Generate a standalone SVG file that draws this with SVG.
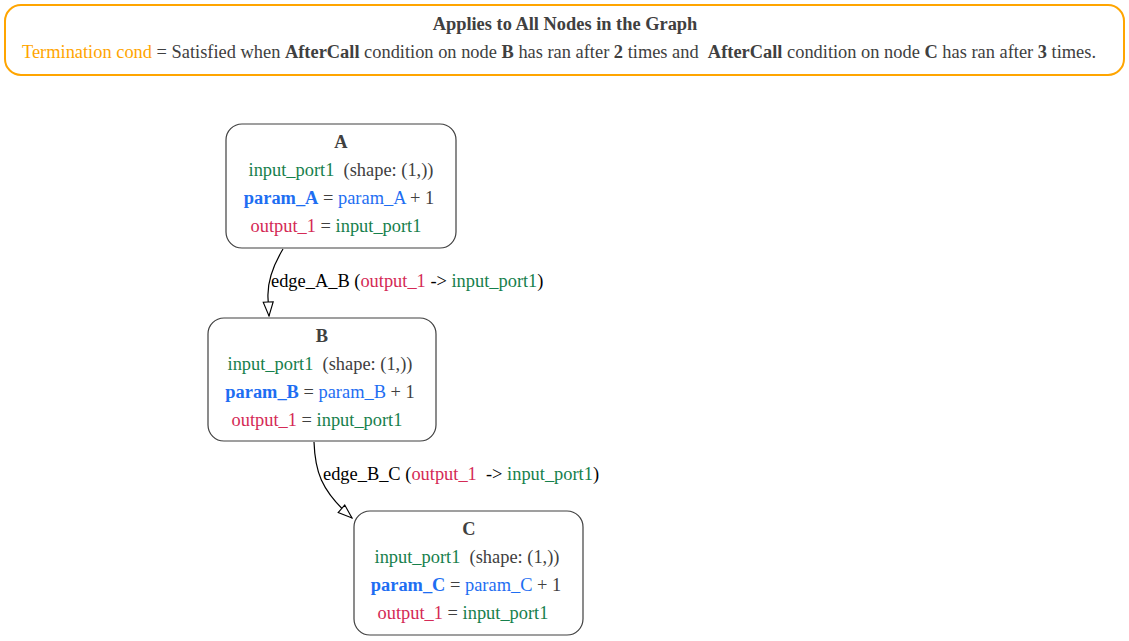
<svg xmlns="http://www.w3.org/2000/svg" width="1129" height="641" viewBox="0 0 1129 641">
<style>
text{font-family:"Liberation Serif","Times New Roman",serif;font-size:18.4px;fill:#404040;white-space:pre}
.b{font-weight:bold}
.g{fill:#16804c}
.r{fill:#d42a56}
.bl{fill:#1e6ef2}
.o{fill:#ffa500}
.k{fill:#000}
.node{fill:#fff;stroke:#404040;stroke-width:1.2}
.edge{fill:none;stroke:#000;stroke-width:1.2}
</style>
<defs>
<marker id="ah" markerWidth="16" markerHeight="12" refX="15" refY="6" orient="auto" markerUnits="userSpaceOnUse">
<path d="M1,1 L15,6 L1,11 Z" fill="#fff" stroke="#000" stroke-width="1.1"/>
</marker>
</defs>
<rect width="1129" height="641" fill="#fff"/>
<g id="legend">
<rect x="5" y="5" width="1119" height="70" rx="16" fill="#fff" stroke="#ffa500" stroke-width="2"/>
<text x="565" y="30" text-anchor="middle" class="b">Applies to All Nodes in the Graph</text>
<text x="22" y="58"><tspan class="o">Termination cond</tspan> = Satisfied when <tspan class="b">AfterCall</tspan> condition on node <tspan class="b">B</tspan> has ran after <tspan class="b">2</tspan> times and  <tspan class="b">AfterCall</tspan> condition on node <tspan class="b">C</tspan> has ran after <tspan class="b">3</tspan> times.</text>
</g>
<g id="edges">
<path class="edge" d="M283,249 C274,264 267,280 268,298 L269,316" marker-end="url(#ah)"/>
<text x="271" y="287" class="k">edge_A_B (<tspan class="r">output_1</tspan> -&gt; <tspan class="g">input_port1</tspan>)</text>
<path class="edge" d="M314,442 C315,470 320,490 352,518" marker-end="url(#ah)"/>
<text x="323" y="480" class="k">edge_B_C (<tspan class="r">output_1</tspan>  -&gt; <tspan class="g">input_port1</tspan>)</text>
</g>
<g id="node-A">
<rect class="node" x="226" y="124" width="230" height="124" rx="16"/>
<text x="341" y="148" text-anchor="middle" class="b">A</text>
<text x="341" y="176" text-anchor="middle"><tspan class="g">input_port1</tspan>  (shape: (1,))</text>
<text x="339" y="204" text-anchor="middle"><tspan class="bl b">param_A</tspan> = <tspan class="bl">param_A</tspan> + 1</text>
<text x="336" y="232" text-anchor="middle"><tspan class="r">output_1</tspan> = <tspan class="g">input_port1</tspan></text>
</g>
<g id="node-B">
<rect class="node" x="208" y="318" width="228" height="123" rx="16"/>
<text x="322" y="342" text-anchor="middle" class="b">B</text>
<text x="320" y="370" text-anchor="middle"><tspan class="g">input_port1</tspan>  (shape: (1,))</text>
<text x="320" y="398" text-anchor="middle"><tspan class="bl b">param_B</tspan> = <tspan class="bl">param_B</tspan> + 1</text>
<text x="317" y="426" text-anchor="middle"><tspan class="r">output_1</tspan> = <tspan class="g">input_port1</tspan></text>
</g>
<g id="node-C">
<rect class="node" x="354" y="511" width="229" height="124" rx="16"/>
<text x="469" y="535" text-anchor="middle" class="b">C</text>
<text x="467" y="563" text-anchor="middle"><tspan class="g">input_port1</tspan>  (shape: (1,))</text>
<text x="466" y="591" text-anchor="middle"><tspan class="bl b">param_C</tspan> = <tspan class="bl">param_C</tspan> + 1</text>
<text x="463" y="619" text-anchor="middle"><tspan class="r">output_1</tspan> = <tspan class="g">input_port1</tspan></text>
</g>
</svg>
